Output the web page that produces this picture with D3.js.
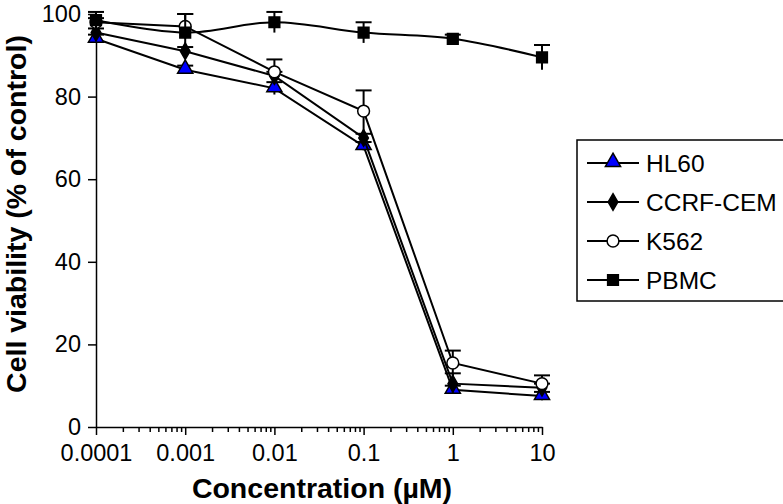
<!DOCTYPE html>
<html lang="en">
<head>
<meta charset="utf-8">
<title>Cell viability</title>
<script src="https://cdn.jsdelivr.net/npm/d3@7"></script>
<style>
html, body { margin: 0; padding: 0; background: #fff; }
svg { display: block; font-family: "Liberation Sans", Arial, sans-serif; }
.tick text { font-size: 23.5px; fill: #000; }
.domain, .tick line { stroke: #000; stroke-width: 1.5px; }
</style>
</head>
<body>
<svg id="chart" width="783" height="504"></svg>
<script>
// concentrations (µM) and series values (% of control)
var conc = [0.0001, 0.001, 0.01, 0.1, 1, 10];
var xTickLabels = ["0.0001", "0.001", "0.01", "0.1", "1", "10"];
var yTicks = [0, 20, 40, 60, 80, 100];

var hl60 = [94, 86.5, 82, 68, 9, 7.5];
var hl60Err = [1, 1, 1.5, 1, 1, 1];
var ccrf = [95.5, 91, 85, 70, 10.5, 9.5];
var ccrfErr = [1, 1, 1, 1, 2.5, 1];
var k562 = [98, 97, 86, 76.5, 15.5, 10.5];
var k562Err = [1, 3, 3, 5, 3, 2];
var pbmc = [98.5, 95.5, 98, 95.5, 94, 89.5];
var pbmcErr = [2, 4.5, 2.5, 2.5, 1, 3];

var series = [
  {name: "HL60", values: hl60, err: hl60Err, marker: "triangle", smooth: false},
  {name: "CCRF-CEM", values: ccrf, err: ccrfErr, marker: "diamond", smooth: false},
  {name: "K562", values: k562, err: k562Err, marker: "circle", smooth: false},
  {name: "PBMC", values: pbmc, err: pbmcErr, marker: "square", smooth: true}
];

var svg = d3.select("#chart");

var x = d3.scaleLog().domain([0.0001, 10]).range([96, 542]);
var y = d3.scaleLinear().domain([0, 100]).range([427, 14]);

// minor ticks 2..9 in jeder Dekade
var minor = [];
conc.slice(0, -1).forEach(function(c) {
  for (var k = 2; k < 10; k++) minor.push(c * k);
});

svg.append("g")
    .attr("transform", "translate(0," + y(0) + ")")
    .call(d3.axisBottom(x).tickValues(minor).tickSize(5).tickFormat(""))
    .call(function(g) { g.select(".domain").remove(); });

svg.append("g")
    .attr("transform", "translate(0," + y(0) + ")")
    .call(d3.axisBottom(x).tickValues(conc).tickSize(8).tickSizeOuter(0)
      .tickPadding(9).tickFormat(function(d, i) { return xTickLabels[i]; }));

svg.append("g")
    .attr("transform", "translate(" + x(0.0001) + ",0)")
    .call(d3.axisLeft(y).tickValues(yTicks).tickSize(8).tickSizeOuter(0).tickPadding(7));

// axis titles
svg.append("text")
    .attr("x", 322).attr("y", 498)
    .attr("text-anchor", "middle")
    .style("font-size", "28.5px").style("font-weight", "bold")
    .text("Concentration (µM)");

svg.append("text")
    .attr("transform", "translate(26,214) rotate(-90)")
    .attr("text-anchor", "middle")
    .style("font-size", "28.5px").style("font-weight", "bold")
    .text("Cell viability (% of control)");

var symbols = {
  triangle: d3.symbol().type(d3.symbolTriangle).size(100),
  diamond: d3.symbol().type(d3.symbolDiamond).size(80),
  circle: d3.symbol().type(d3.symbolCircle).size(110),
  square: d3.symbol().type(d3.symbolSquare).size(115)
};
var fills = {triangle: "#0000ff", diamond: "#000", circle: "#fff", square: "#000"};

function drawMarker(g, type, cx, cy) {
  g.append("path")
      .attr("d", symbols[type]())
      .attr("transform", "translate(" + cx + "," + (type === "triangle" ? cy - 1 : cy) + ")")
      .attr("fill", fills[type])
      .attr("stroke", "#000")
      .attr("stroke-width", 1.5);
}

series.forEach(function(s) {
  var g = svg.append("g");
  var pts = conc.map(function(c, i) { return [x(c), y(s.values[i]), s.err[i]]; });

  var line = d3.line().curve(s.smooth ? d3.curveCatmullRom : d3.curveLinear);
  g.append("path")
      .attr("d", line(pts.map(function(p) { return [p[0], p[1]]; })))
      .attr("fill", "none")
      .attr("stroke", "#000")
      .attr("stroke-width", 2);

  // Fehlerbalken, Kappe nur oben
  pts.forEach(function(p, i) {
    var e = y(s.values[i] - p[2]) - p[1];
    g.append("line")
        .attr("x1", p[0]).attr("x2", p[0])
        .attr("y1", p[1] - e).attr("y2", p[1] + e)
        .attr("stroke", "#000").attr("stroke-width", 2);
    g.append("line")
        .attr("x1", p[0] - 8).attr("x2", p[0] + 8)
        .attr("y1", p[1] - e).attr("y2", p[1] - e)
        .attr("stroke", "#000").attr("stroke-width", 2);
  });

  pts.forEach(function(p) { drawMarker(g, s.marker, p[0], p[1]); });
});

// legend
var leg = svg.append("g");
leg.append("rect")
    .attr("x", 577).attr("y", 140)
    .attr("width", 220).attr("height", 161)
    .attr("fill", "#fff").attr("stroke", "#000").attr("stroke-width", 1.5);

series.forEach(function(s, i) {
  var ly = 163 + i * 39;
  leg.append("line")
      .attr("x1", 587).attr("x2", 639)
      .attr("y1", ly).attr("y2", ly)
      .attr("stroke", "#000").attr("stroke-width", 2);
  drawMarker(leg, s.marker, 613, ly);
  leg.append("text")
      .attr("x", 646).attr("y", ly + 9)
      .style("font-size", "24.5px")
      .text(s.name);
});
</script>
</body>
</html>
